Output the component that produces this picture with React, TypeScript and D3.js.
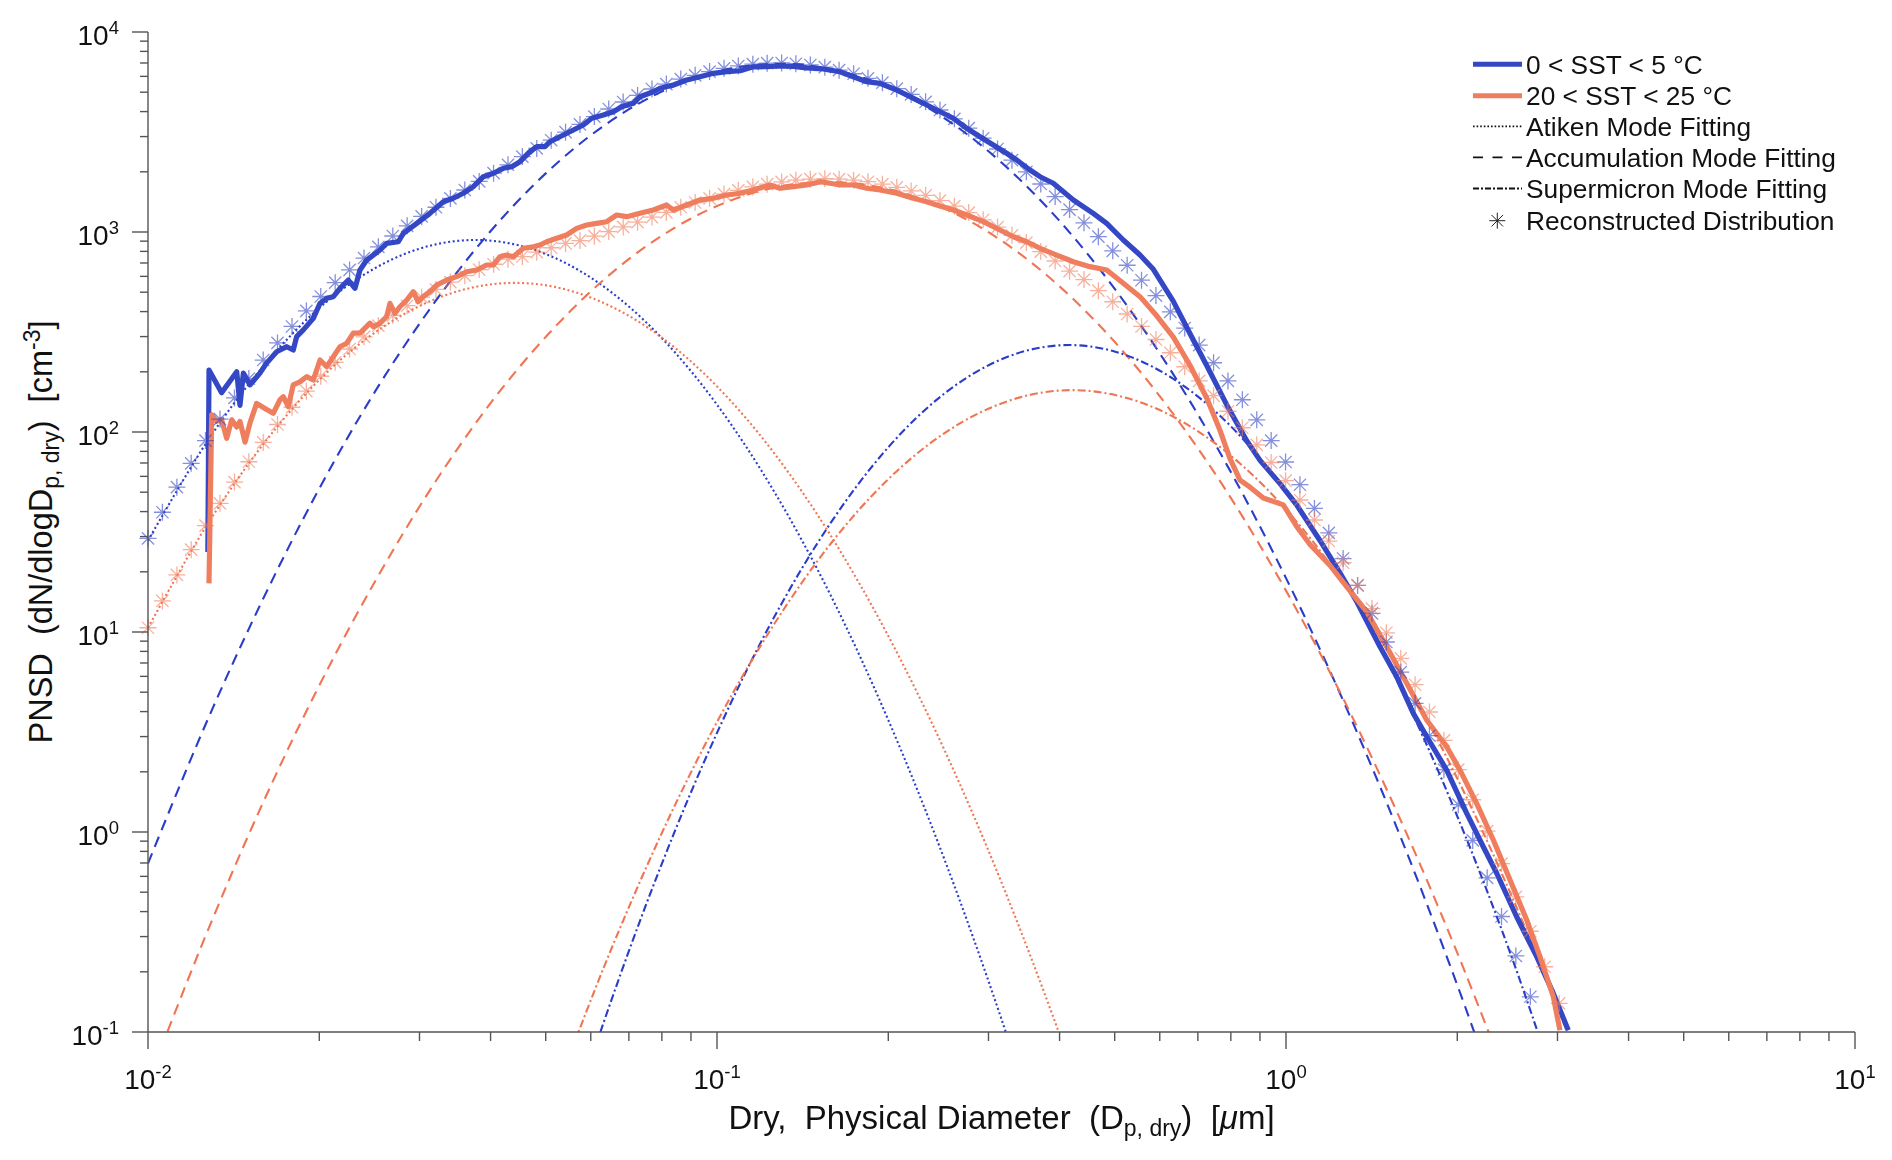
import React from 'react';
import * as d3 from 'd3';

type Pt = [number, number];

// ---------- Measured PNSD (solid lines) ----------
const BLUE_MEASURED: Pt[] = [
  [0.01274, 25.1], [0.0128, 204], [0.01347, 157], [0.01432, 200], [0.01451, 136], [0.01471, 197],
  [0.01511, 172], [0.01573, 197], [0.01616, 221], [0.01683, 252], [0.01753, 267], [0.018, 257],
  [0.01825, 300], [0.01875, 324], [0.01952, 370], [0.02006, 440], [0.02061, 466], [0.02117, 475],
  [0.02175, 523], [0.02249, 575], [0.02311, 523], [0.02358, 646], [0.02423, 724], [0.02557, 813],
  [0.02627, 878], [0.02754, 894], [0.0281, 985], [0.02967, 1105], [0.0313, 1240], [0.03304, 1418],
  [0.0344, 1474], [0.03582, 1562], [0.0373, 1685], [0.03885, 1890], [0.04045, 1966], [0.04211, 2082],
  [0.04357, 2121], [0.04506, 2247], [0.04692, 2521], [0.04822, 2670], [0.04985, 2670], [0.05088, 2828],
  [0.0537, 3055], [0.05591, 3236], [0.05821, 3428], [0.06023, 3703], [0.06313, 3846], [0.06574, 3995],
  [0.068, 4232], [0.07127, 4401], [0.07323, 4748], [0.07727, 5028], [0.0794, 5229], [0.08381, 5433],
  [0.08846, 5754], [0.09335, 5977], [0.09851, 6215], [0.104, 6331], [0.1098, 6400], [0.1158, 6700],
  [0.1223, 6720], [0.129, 6760], [0.1362, 6720], [0.1438, 6620], [0.1538, 6530], [0.1645, 6331],
  [0.1736, 5977], [0.1833, 5643], [0.1934, 5540], [0.2069, 5129], [0.2184, 4748], [0.2305, 4401],
  [0.2433, 4074], [0.2602, 3703], [0.2747, 3300], [0.2899, 2996], [0.3059, 2723], [0.3229, 2475],
  [0.3363, 2291], [0.3549, 2042], [0.3696, 1890], [0.3899, 1752], [0.4229, 1445], [0.4584, 1240],
  [0.484, 1105], [0.5177, 912], [0.5539, 767], [0.5846, 651], [0.6339, 450], [0.6782, 310],
  [0.7255, 215], [0.7865, 137], [0.8531, 90.5], [0.9002, 72.1], [0.9761, 55.2], [1.044, 43.2],
  [1.148, 28.6], [1.244, 19.75], [1.331, 14.2], [1.463, 8.44], [1.565, 5.98], [1.674, 3.92],
  [1.767, 3.0], [1.916, 2.04], [2.078, 1.24], [2.222, 0.844], [2.346, 0.622], [2.543, 0.377],
  [2.758, 0.238], [2.95, 0.156], [3.134, 0.102],
];

const ORANGE_MEASURED: Pt[] = [
  [0.0128, 17.5], [0.01294, 122], [0.0132, 113], [0.01347, 115], [0.01375, 93], [0.01403, 115],
  [0.01432, 106], [0.01451, 113], [0.01481, 89], [0.01511, 111], [0.01552, 139], [0.01605, 131],
  [0.0166, 124], [0.01706, 145], [0.01729, 150], [0.01764, 134], [0.018, 172], [0.01849, 178],
  [0.019, 189], [0.01952, 182], [0.02006, 229], [0.02061, 212], [0.02117, 238], [0.02175, 267],
  [0.02235, 278], [0.02295, 312], [0.02358, 312], [0.02455, 350], [0.02489, 336], [0.02557, 350],
  [0.02627, 377], [0.02662, 440], [0.02716, 392], [0.02772, 423], [0.02849, 457], [0.02926, 503],
  [0.02985, 448], [0.03046, 475], [0.0313, 503], [0.03216, 543], [0.0335, 575], [0.03487, 598],
  [0.03632, 633], [0.03782, 646], [0.03937, 684], [0.04044, 684], [0.04155, 752], [0.04269, 767],
  [0.04385, 752], [0.04567, 829], [0.04754, 844], [0.04884, 861], [0.05019, 894], [0.05226, 930],
  [0.05442, 966], [0.05667, 1043], [0.05902, 1084], [0.06146, 1105], [0.064, 1126], [0.06664, 1216],
  [0.0694, 1193], [0.07323, 1240], [0.07727, 1288], [0.08156, 1365], [0.08381, 1288], [0.08846, 1365],
  [0.09335, 1445], [0.09851, 1474], [0.104, 1531], [0.1098, 1562], [0.1158, 1622], [0.1239, 1718],
  [0.129, 1654], [0.1362, 1685], [0.1438, 1718], [0.1517, 1785], [0.158, 1752], [0.1645, 1718],
  [0.1736, 1718], [0.1833, 1654], [0.1934, 1622], [0.2069, 1562], [0.2213, 1474], [0.2336, 1418],
  [0.2433, 1365], [0.2602, 1288], [0.2747, 1216], [0.2938, 1126], [0.3143, 1023], [0.3317, 947],
  [0.3503, 894], [0.3696, 829], [0.3954, 767], [0.4229, 710], [0.4523, 671], [0.484, 646],
  [0.5177, 554], [0.5539, 475], [0.5927, 381], [0.6339, 298], [0.6782, 215], [0.7255, 148],
  [0.7656, 102], [0.7972, 73.6], [0.8302, 57.5], [0.8645, 53.0], [0.9123, 46.8], [0.9892, 43.2],
  [1.044, 33.7], [1.102, 27.4], [1.195, 21.5], [1.279, 16.8], [1.387, 12.6], [1.503, 8.44],
  [1.63, 5.54], [1.767, 3.63], [1.916, 2.67], [2.022, 2.04], [2.163, 1.39], [2.314, 0.912],
  [2.476, 0.575], [2.649, 0.363], [2.795, 0.238], [2.95, 0.15], [3.03, 0.102],
];

// ---------- Mode fittings ----------
const BLUE_AITKEN: Pt[] = [
  [0.01, 28.6], [0.01259, 86.1], [0.01585, 209], [0.01995, 414], [0.02512, 662], [0.03162, 860],
  [0.03981, 906], [0.05012, 774], [0.0631, 536], [0.07943, 301], [0.1, 137], [0.1259, 50.6],
  [0.1585, 15.2], [0.1995, 3.69], [0.2512, 0.726], [0.3162, 0.116], [0.3981, 0.015],
];
const ORANGE_AITKEN: Pt[] = [
  [0.01, 10.5], [0.01259, 33.0], [0.01585, 85.0], [0.01995, 181], [0.02512, 316], [0.03162, 456],
  [0.03981, 546], [0.05012, 541], [0.0631, 443], [0.07943, 301], [0.1, 169], [0.1259, 78.7],
  [0.1585, 30.3], [0.1995, 9.68], [0.2512, 2.56], [0.3162, 0.56], [0.3981, 0.101], [0.5012, 0.0152],
];
const BLUE_ACCUM: Pt[] = [
  [0.01, 0.696], [0.01259, 3.39], [0.01585, 14.2], [0.01995, 51.5], [0.02512, 161], [0.03162, 430],
  [0.03981, 994], [0.05012, 1975], [0.0631, 3382], [0.07943, 4991], [0.1, 6338], [0.1259, 6933],
  [0.1585, 6529], [0.1995, 5297], [0.2512, 3700], [0.3162, 2225], [0.3981, 1153], [0.5012, 515],
  [0.631, 198], [0.7943, 65.4], [1.0, 18.6], [1.259, 4.57], [1.585, 0.965], [1.995, 0.175], [2.512, 0.0275],
];
const ORANGE_ACCUM: Pt[] = [
  [0.01, 0.0565], [0.01259, 0.297], [0.01585, 1.36], [0.01995, 5.33], [0.02512, 18.1], [0.03162, 53.6],
  [0.03981, 137], [0.05012, 301], [0.0631, 574], [0.07943, 946], [0.1, 1349], [0.1259, 1666],
  [0.1585, 1778], [0.1995, 1642], [0.2512, 1311], [0.3162, 905], [0.3981, 541], [0.5012, 280],
  [0.631, 125], [0.7943, 48.3], [1.0, 16.1], [1.259, 4.68], [1.585, 1.17], [1.995, 0.253], [2.512, 0.0475],
];
const BLUE_SUPER: Pt[] = [
  [0.05012, 0.0145], [0.0631, 0.11], [0.07943, 0.659], [0.1, 3.13], [0.1259, 11.8], [0.1585, 35.2],
  [0.1995, 83.2], [0.2512, 156], [0.3162, 231], [0.3981, 271], [0.5012, 252], [0.631, 186],
  [0.7943, 109], [1.0, 50.2], [1.259, 18.4], [1.585, 5.33], [1.995, 1.22], [2.512, 0.223], [3.162, 0.0322],
];
const ORANGE_SUPER: Pt[] = [
  [0.05012, 0.0375], [0.0631, 0.207], [0.07943, 0.946], [0.1, 3.55], [0.1259, 10.9], [0.1585, 27.7],
  [0.1995, 57.7], [0.2512, 98.8], [0.3162, 139], [0.3981, 161], [0.5012, 153], [0.631, 120],
  [0.7943, 77.4], [1.0, 41.0], [1.259, 17.8], [1.585, 6.38], [1.995, 1.88], [2.512, 0.454],
  [3.162, 0.0904], [3.981, 0.0148],
];

// ---------- Reconstructed distribution (asterisks) ----------
const RECON_D: number[] = [
  0.01, 0.0106, 0.01124, 0.01191, 0.01262, 0.01338, 0.01419, 0.01504, 0.01594, 0.01689,
  0.01791, 0.01898, 0.02012, 0.02133, 0.02261, 0.02397, 0.0254, 0.02693, 0.02854, 0.03026,
  0.03207, 0.034, 0.03604, 0.0382, 0.04049, 0.04292, 0.04549, 0.04822, 0.05112, 0.05418,
  0.05743, 0.06088, 0.06453, 0.06841, 0.07251, 0.07686, 0.08147, 0.08636, 0.09154, 0.09704,
  0.1029, 0.109, 0.1156, 0.1225, 0.1299, 0.1376, 0.1459, 0.1547, 0.1639, 0.1738,
  0.1842, 0.1953, 0.207, 0.2194, 0.2326, 0.2465, 0.2613, 0.277, 0.2936, 0.3112,
  0.3299, 0.3497, 0.3707, 0.3929, 0.4165, 0.4415, 0.468, 0.496, 0.5258, 0.5573,
  0.5908, 0.6262, 0.6638, 0.7037, 0.7459, 0.7906, 0.8381, 0.8884, 0.9417, 0.9982,
  1.058, 1.122, 1.189, 1.26, 1.336, 1.416, 1.501, 1.591, 1.686, 1.787,
  1.895, 2.008, 2.129, 2.257, 2.392, 2.535, 2.688, 2.849, 3.02,
];
const BLUE_RECON: number[] = [
  29.4, 39.7, 53.0, 69.7, 90.6, 116, 148, 185, 229, 279,
  337, 403, 476, 558, 646, 741, 843, 955, 1074, 1197,
  1330, 1472, 1622, 1791, 1968, 2168, 2382, 2618, 2877, 3155,
  3451, 3776, 4121, 4467, 4819, 5188, 5490, 5816, 6070, 6342,
  6580, 6764, 6906, 6986, 7002, 6937, 6842, 6672, 6445, 6184,
  5864, 5580, 5207, 4875, 4477, 4074, 3681, 3304, 2944, 2600,
  2286, 2000, 1738, 1503, 1294, 1112, 948, 805, 682, 574,
  481, 399, 331, 272, 222, 180, 145, 115, 90.6, 70.8,
  54.5, 41.5, 31.3, 23.3, 17.1, 12.4, 8.91, 6.3, 4.4, 3.03,
  2.05, 1.37, 0.908, 0.59, 0.378, 0.24, 0.15, 0.091,
];
const ORANGE_RECON: number[] = [
  10.5, 14.3, 19.3, 25.8, 34.0, 44.0, 56.2, 71.0, 88.7, 109,
  133, 160, 190, 223, 260, 299, 340, 383, 428, 472,
  516, 562, 605, 649, 690, 731, 754, 793, 834, 877,
  906, 953, 1005, 1060, 1120, 1187, 1254, 1329, 1404, 1474,
  1547, 1615, 1680, 1735, 1780, 1816, 1837, 1846, 1837, 1816,
  1784, 1735, 1672, 1604, 1525, 1436, 1347, 1251, 1151, 1058,
  962, 885, 798, 716, 637, 578, 509, 448, 389, 337,
  290, 249, 212, 180, 152, 127, 105, 86.3, 70.4, 57.1,
  45.7, 36.3, 28.5, 22.2, 17.1, 13.1, 9.91, 7.38, 5.45, 3.98,
  2.87, 2.05, 1.45, 1.01, 0.695, 0.474, 0.319, 0.212, 0.139,
];

// ---------- Axes / legend text ----------
const X_MAJOR = [0.01, 0.1, 1, 10];
const X_EXP = ['-2', '-1', '0', '1'];
const Y_MAJOR = [0.1, 1, 10, 100, 1000, 10000];
const Y_EXP = ['-1', '0', '1', '2', '3', '4'];
const LEGEND_LABELS = [
  '0 < SST < 5 °C',
  '20 < SST < 25 °C',
  'Atiken Mode Fitting',
  'Accumulation Mode Fitting',
  'Supermicron Mode Fitting',
  'Reconstructed Distribution',
];

const W = 1892, H = 1160;
const X0 = 148, X1 = 1855, YB = 1032, YT = 32;
const FONT = "'Liberation Sans', Arial, Helvetica, sans-serif";
const BLUE = '#3447c5';
const ORANGE = '#ef7e5e';
const BLUE_FIT = '#2a3dc8';
const ORANGE_FIT = '#ef7553';
const AXIS = '#555555';

const DOT = '2,2.6';
const DASH = '11,7';
const DASHDOT = '8,3,2,3';

const x = d3.scaleLog().domain([0.01, 10]).range([X0, X1]);
const y = d3.scaleLog().domain([0.1, 10000]).range([YB, YT]);

function star(r: number): string {
  const k = r * 0.72;
  return `M${-r},0H${r}M0,${-r}V${r}M${-k},${-k}L${k},${k}M${-k},${k}L${k},${-k}`;
}

export default function App() {
  const lin = d3.line<Pt>().x((d) => x(d[0])).y((d) => y(d[1]));
  const smooth = d3
    .line<Pt>()
    .x((d) => x(d[0]))
    .y((d) => y(d[1]))
    .curve(d3.curveCatmullRom.alpha(0));

  const xTicks = x.ticks();
  const yTicks = y.ticks();
  const isMajor = (v: number) => Math.abs(Math.log10(v) - Math.round(Math.log10(v))) < 1e-6;

  const fits = [
    { d: BLUE_AITKEN, c: BLUE_FIT, dash: DOT },
    { d: ORANGE_AITKEN, c: ORANGE_FIT, dash: DOT },
    { d: BLUE_ACCUM, c: BLUE_FIT, dash: DASH },
    { d: ORANGE_ACCUM, c: ORANGE_FIT, dash: DASH },
    { d: BLUE_SUPER, c: BLUE_FIT, dash: DASHDOT },
    { d: ORANGE_SUPER, c: ORANGE_FIT, dash: DASHDOT },
  ];

  const recon = [
    { v: BLUE_RECON, c: BLUE },
    { v: ORANGE_RECON, c: ORANGE },
  ];

  const legendY = [64.3, 95.7, 126.3, 157.3, 188.5, 220.7];
  const starP = star(8.5);

  return (
    <svg
      width={W}
      height={H}
      viewBox={`0 0 ${W} ${H}`}
      style={{ position: 'absolute', left: 0, top: 0, background: '#fff' }}
      fontFamily={FONT}
    >
      <defs>
        <clipPath id="plot">
          <rect x={X0} y={YT} width={X1 - X0} height={YB - YT} />
        </clipPath>
      </defs>
      <rect x={0} y={0} width={W} height={H} fill="#fff" />

      {/* fitted modes */}
      <g clipPath="url(#plot)" fill="none">
        {fits.map((f, i) => (
          <path key={i} d={smooth(f.d) || ''} stroke={f.c} strokeWidth={2.1} strokeDasharray={f.dash} />
        ))}
      </g>

      {/* measured */}
      <g clipPath="url(#plot)" fill="none" strokeLinejoin="round" strokeLinecap="butt">
        <path d={lin(BLUE_MEASURED) || ''} stroke={BLUE} strokeWidth={5.2} />
        <path d={lin(ORANGE_MEASURED) || ''} stroke={ORANGE} strokeWidth={5.2} />
      </g>

      {/* reconstructed asterisks */}
      {recon.map((s, si) => (
        <g key={si} fill="none" stroke={s.c} strokeWidth={1.3} opacity={0.6}>
          {s.v.map((v, i) =>
            v >= 0.1 ? (
              <g key={i} transform={`translate(${x(RECON_D[i])},${y(v)})`}>
                <path d={starP} />
                <circle r={1.3} fill={s.c} stroke="none" />
              </g>
            ) : null
          )}
        </g>
      ))}

      {/* axes */}
      <g stroke={AXIS} strokeWidth={1.4} fill="none">
        <line x1={X0} y1={YT} x2={X0} y2={YB} />
        <line x1={X0} y1={YB} x2={X1} y2={YB} />
        {yTicks.map((t, i) => (
          <line key={'yt' + i} x1={X0} x2={X0 - (isMajor(t) ? 16 : 8)} y1={y(t)} y2={y(t)} />
        ))}
        {xTicks.map((t, i) => (
          <line key={'xt' + i} x1={x(t)} x2={x(t)} y1={YB} y2={YB + (isMajor(t) ? 17 : 9)} />
        ))}
      </g>

      {/* tick labels */}
      <g fill="#111" fontSize={28}>
        {Y_MAJOR.map((v, i) => (
          <text key={'yl' + i} x={119} y={y(v) + 13} textAnchor="end">
            10<tspan dy={-11} fontSize={18.5}>{Y_EXP[i]}</tspan>
          </text>
        ))}
        {X_MAJOR.map((v, i) => (
          <text key={'xl' + i} x={x(v)} y={1089} textAnchor="middle">
            10<tspan dy={-11} fontSize={18.5}>{X_EXP[i]}</tspan>
          </text>
        ))}
      </g>

      {/* axis titles */}
      <text
        x={(X0 + X1) / 2}
        y={1129}
        textAnchor="middle"
        fontSize={33}
        fill="#111"
        style={{ whiteSpace: 'pre' }}
      >
        {'Dry,  Physical Diameter  (D'}
        <tspan dy={7} fontSize={23}>{'p, dry'}</tspan>
        <tspan dy={-7}>{')  ['}</tspan>
        <tspan fontStyle="italic">{'μ'}</tspan>
        <tspan>{'m]'}</tspan>
      </text>
      <text
        transform={`translate(52,${(YT + YB) / 2}) rotate(-90)`}
        textAnchor="middle"
        fontSize={32.5}
        fill="#111"
        style={{ whiteSpace: 'pre' }}
      >
        {'PNSD  (dN/dlogD'}
        <tspan dy={7} fontSize={23}>{'p, dry'}</tspan>
        <tspan dy={-7}>{')  [cm'}</tspan>
        <tspan dy={-12} fontSize={23}>{'-3'}</tspan>
        <tspan dy={12}>{']'}</tspan>
      </text>

      {/* legend */}
      <g>
        <line x1={1473} x2={1522} y1={legendY[0]} y2={legendY[0]} stroke={BLUE} strokeWidth={5} />
        <line x1={1473} x2={1522} y1={legendY[1]} y2={legendY[1]} stroke={ORANGE} strokeWidth={5} />
        <line x1={1473} x2={1522} y1={legendY[2]} y2={legendY[2]} stroke="#111" strokeWidth={1.8} strokeDasharray="1.6,2" />
        <line x1={1473} x2={1522} y1={legendY[3]} y2={legendY[3]} stroke="#111" strokeWidth={1.8} strokeDasharray="10,9.5" />
        <line x1={1473} x2={1522} y1={legendY[4]} y2={legendY[4]} stroke="#111" strokeWidth={1.8} strokeDasharray="6,2,2,2" />
        <path d={star(8)} transform={`translate(1497.3,${legendY[5]})`} stroke="#222" strokeWidth={1} fill="none" />
        {LEGEND_LABELS.map((t, i) => (
          <text key={'lg' + i} x={1526} y={legendY[i] + 9.5} fontSize={26.3} fill="#111">
            {t}
          </text>
        ))}
      </g>
    </svg>
  );
}
